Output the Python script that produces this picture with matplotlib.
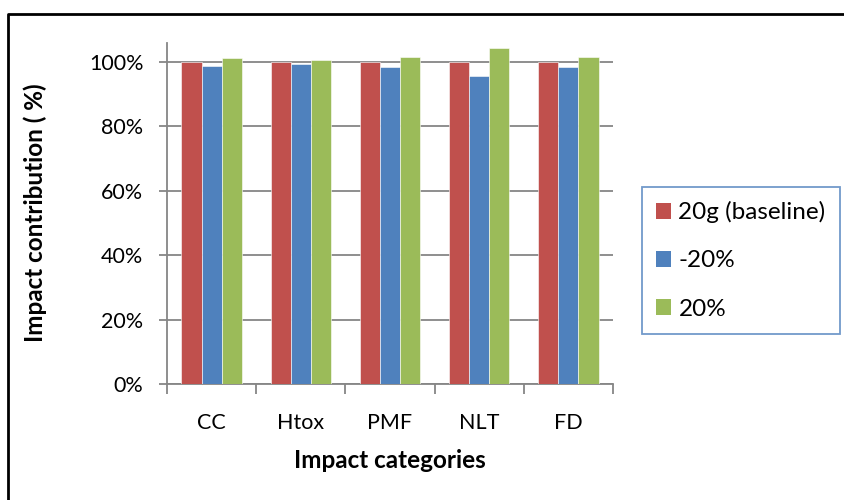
import numpy as np
import matplotlib
matplotlib.use('Agg')
import matplotlib.pyplot as plt
from matplotlib.ticker import PercentFormatter, FixedLocator
from matplotlib.patches import Patch

# Sensitivity of impact contribution to input amount
categories = ['CC', 'Htox', 'PMF', 'NLT', 'FD']
baseline = [1.000, 1.000, 1.000, 1.000, 1.000]
minus20 = [0.988, 0.994, 0.986, 0.957, 0.986]
plus20 = [1.012, 1.006, 1.014, 1.042, 1.014]
series_names = ['20g (baseline)', '-20%', '20%']
colors = ['#C0504D', '#4F81BD', '#9BBB59']

plt.rcParams['font.family'] = ['Lato', 'DejaVu Sans']

fig = plt.figure(figsize=(8.44, 5), dpi=100)
ax = fig.add_axes([167/844, 116/500, 446/844, 341/500])

x = np.arange(len(categories))
w = 0.225
for i, (vals, c) in enumerate(zip([baseline, minus20, plus20], colors)):
    ax.bar(x + (i - 1) * w, vals, w, color=c, edgecolor='white', linewidth=0.4, zorder=3)

ax.set_xlim(-0.5, 4.5)
ax.set_ylim(0, 1.059)
ax.set_yticks(np.arange(0, 1.01, 0.2))
ax.yaxis.set_major_formatter(PercentFormatter(1.0, decimals=0))
ax.yaxis.grid(True, color='#868686', linewidth=1.3, zorder=0)

ax.set_xticks(x)
ax.set_xticklabels(categories)
ax.xaxis.set_minor_locator(FixedLocator(np.arange(-0.5, 4.6, 1)))
ax.tick_params(axis='x', which='major', length=0, pad=21, labelsize=15.5)
ax.tick_params(axis='x', which='minor', length=7, width=1.3, color='#868686')
ax.tick_params(axis='y', length=6, width=1.3, color='#868686', pad=11, labelsize=15.5)

for s in ['top', 'right']:
    ax.spines[s].set_visible(False)
for s in ['left', 'bottom']:
    ax.spines[s].set_color('#868686')
    ax.spines[s].set_linewidth(1.3)

fig.text(390/844, 1 - 460/500, 'Impact categories', ha='center', va='center',
         fontsize=17.5, fontweight='bold')
fig.text(35/844, 1 - 213/500, 'Impact contribution ( %)', ha='center', va='center',
         rotation=90, fontsize=17.5, fontweight='bold')

handles = [Patch(facecolor=c) for c in colors]
leg = fig.legend(handles, series_names, loc='upper left',
                 bbox_to_anchor=(642/844, 1 - 187/500), fontsize=17.5,
                 frameon=True, fancybox=False, borderaxespad=0,
                 handlelength=0.62, handleheight=0.62, handletextpad=0.3,
                 labelspacing=1.12, borderpad=0.58)
leg.get_frame().set_edgecolor('#4F81BD')
leg.get_frame().set_linewidth(1.3)

# outer chart frame
fig.add_artist(plt.Line2D([8/844, 8/844, 1], [0, 1 - 14/500, 1 - 14/500],
                          transform=fig.transFigure, color='black', linewidth=2))

fig.savefig('out.png', dpi=100)
